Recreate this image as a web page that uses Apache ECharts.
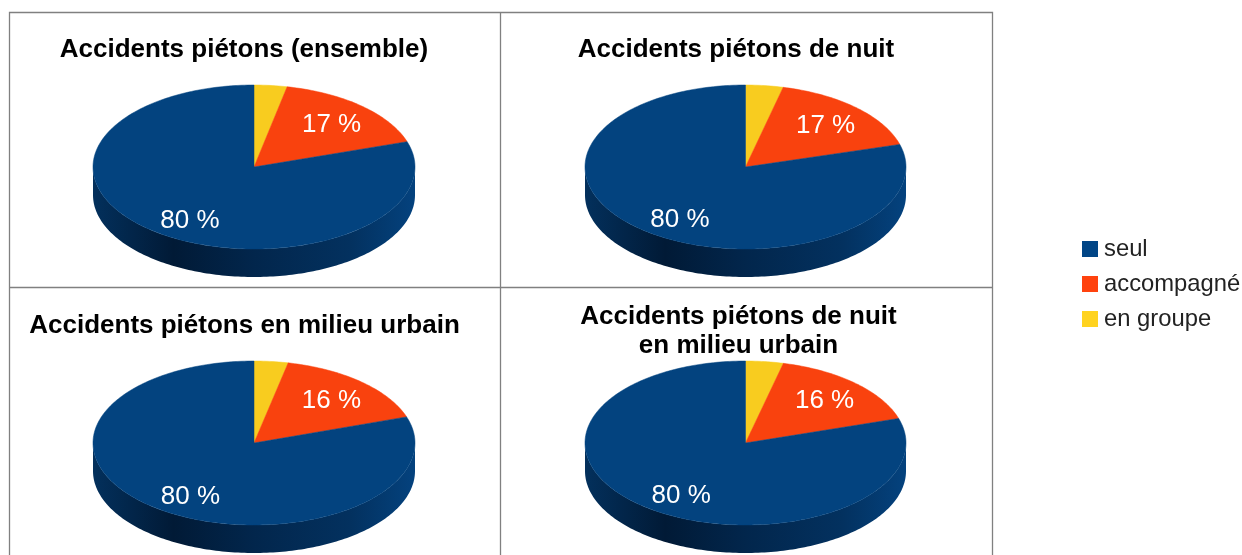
<!DOCTYPE html>
<html>
<head>
    <meta charset="utf-8">
    <title>Accidents piétons</title>
    <script src="https://cdn.jsdelivr.net/npm/echarts@6/dist/echarts.min.js"></script>
    <style>
        body, html { margin: 0; padding: 0; height: 100%; overflow: hidden; background: #fff; }
        #main { width: 1242px; height: 555px; }
    </style>
</head>
<body>
    <div id="main"></div>
    <script>
        // valeurs (%), dans l'ordre des camemberts
        var pieTitles = [
            'Accidents piétons (ensemble)',
            'Accidents piétons de nuit',
            'Accidents piétons en milieu urbain',
            'Accidents piétons de nuit\nen milieu urbain'
        ];
        var categories = ['seul', 'accompagné', 'en groupe'];
        var seul = [80, 80, 80, 80];
        var accompagne = [16.7, 16.9, 16.4, 16.4];
        var enGroupe = [3.3, 3.8, 3.4, 3.8];

        var legendColors = ['#004586', '#ff420e', '#ffd320'];
        var topColors = ['#03437f', '#f9420e', '#f8cc1f'];
        var wallStops = [
            [0, '#03305c'], [0.25, '#011a36'], [0.5, '#02264c'], [0.8, '#03315f'], [1, '#04427e']
        ];
        var DEPTH = 28 / 82;
        var LABEL_R = 0.73;
        var labelOffsets = [[5, 5], [-1, 2], [0, 0]];
        var FONT = '"Liberation Sans", Arial, sans-serif';

        var layouts = [
            { left: 93, top: 85, width: 322, titleX: 244, titleY: 35 },
            { left: 585, top: 85, width: 321, titleX: 736, titleY: 35 },
            { left: 93, top: 361, width: 322, titleX: 244.5, titleY: 311 },
            { left: 585, top: 361, width: 321, titleX: 738.5, titleY: 302 }
        ];

        function arcPoints(api, a0, a1, yShift) {
            var pts = [];
            var n = Math.max(2, Math.ceil((a1 - a0) / 0.02));
            for (var i = 0; i <= n; i++) {
                var a = a0 + (a1 - a0) * i / n;
                pts.push(api.coord([Math.sin(a), Math.cos(a) - yShift]));
            }
            return pts;
        }

        // une part = [début, fin, valeur] en fractions du tour, sens horaire depuis le haut
        function renderSlice(colorIdx) {
            return function (params, api) {
                var a0 = api.value(0) * 2 * Math.PI;
                var a1 = api.value(1) * 2 * Math.PI;
                var val = api.value(2);
                var children = [];

                // flanc : seulement la moitié avant de l'ellipse
                var w0 = Math.max(a0, Math.PI / 2);
                var w1 = Math.min(a1, Math.PI * 1.5);
                if (w1 > w0) {
                    var wall = arcPoints(api, w0, w1, 0).concat(arcPoints(api, w0, w1, DEPTH).reverse());
                    children.push({
                        type: 'polygon',
                        shape: { points: wall },
                        style: {
                            fill: new echarts.graphic.LinearGradient(0, 0, 1, 0, wallStops.map(function (s) {
                                return { offset: s[0], color: s[1] };
                            }))
                        }
                    });
                }

                var top = [api.coord([0, 0])].concat(arcPoints(api, a0, a1, 0));
                children.push({
                    type: 'polygon',
                    shape: { points: top },
                    style: { fill: topColors[colorIdx], stroke: topColors[colorIdx], lineWidth: 0.5 }
                });

                // pas d'étiquette pour "en groupe" sur l'original
                if (colorIdx !== 2) {
                    var mid = (a0 + a1) / 2;
                    var p = api.coord([LABEL_R * Math.sin(mid), LABEL_R * Math.cos(mid)]);
                    children.push({
                        type: 'text',
                        x: p[0] + labelOffsets[colorIdx][0],
                        y: p[1] + labelOffsets[colorIdx][1],
                        z2: 10,
                        style: {
                            text: Math.round(val) + ' %',
                            fill: '#fff',
                            font: '26px ' + FONT,
                            align: 'center',
                            verticalAlign: 'middle'
                        }
                    });
                }
                return { type: 'group', children: children };
            };
        }

        var grids = [], xAxes = [], yAxes = [], titles = [], series = [];
        layouts.forEach(function (l, i) {
            grids.push({ left: l.left, top: l.top, width: l.width, height: 192 });
            xAxes.push({ type: 'value', gridIndex: i, min: -1, max: 1, show: false });
            yAxes.push({ type: 'value', gridIndex: i, min: -1 - DEPTH, max: 1, show: false });
            titles.push({
                text: pieTitles[i],
                left: l.titleX,
                top: l.titleY,
                padding: 0,
                textAlign: 'center',
                textStyle: { fontFamily: FONT, fontSize: 26, fontWeight: 'bold', color: '#000', lineHeight: 29 }
            });

            var values = [enGroupe[i], accompagne[i], seul[i]];
            var order = [2, 1, 0];
            var total = values[0] + values[1] + values[2];
            var start = 0;
            values.forEach(function (v, k) {
                var end = start + v / total;
                series.push({
                    type: 'custom',
                    name: categories[order[k]],
                    xAxisIndex: i,
                    yAxisIndex: i,
                    silent: true,
                    itemStyle: { color: legendColors[order[k]] },
                    renderItem: renderSlice(order[k]),
                    encode: { x: 0, y: 1 },
                    clip: false,
                    data: [[start, end, v]]
                });
                start = end;
            });
        });

        var myChart = echarts.init(document.getElementById('main'));
        myChart.setOption({
            animation: false,
            backgroundColor: '#fff',
            title: titles,
            grid: grids,
            xAxis: xAxes,
            yAxis: yAxes,
            legend: {
                orient: 'vertical',
                left: 1082,
                top: 237,
                padding: 0,
                itemWidth: 16,
                itemHeight: 16,
                itemGap: 11,
                selectedMode: false,
                icon: 'rect',
                textStyle: { fontFamily: FONT, fontSize: 23.8, color: '#222', padding: [0, 0, 0, 1] },
                data: categories.map(function (c, i) {
                    return { name: c, itemStyle: { color: legendColors[i] } };
                })
            },
            // cadres des quatre graphiques
            graphic: [
                { type: 'rect', silent: true, shape: { x: 9.5, y: 12.5, width: 983, height: 560 }, style: { fill: 'none', stroke: '#808080', lineWidth: 1.3 } },
                { type: 'line', silent: true, shape: { x1: 9.5, y1: 287.5, x2: 992.5, y2: 287.5 }, style: { stroke: '#808080', lineWidth: 1.3 } },
                { type: 'line', silent: true, shape: { x1: 500.5, y1: 12.5, x2: 500.5, y2: 555 }, style: { stroke: '#808080', lineWidth: 1.3 } }
            ],
            series: series
        });
    </script>
</body>
</html>
